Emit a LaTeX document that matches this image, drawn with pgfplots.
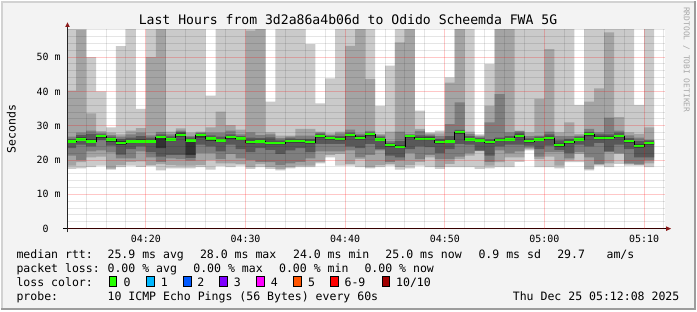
\documentclass[border=0pt]{standalone}
\usepackage{pgfplots}
\pgfplotsset{compat=1.18}
\usepackage{pgfplotstable}
\usepgfplotslibrary{fillbetween}
\tikzset{fill between/on layer=main}
\usepackage{fontspec}
\newfontfamily\mono{DejaVu Sans Mono}
\definecolor{bg}{HTML}{F3F3F3}
\definecolor{sA}{HTML}{CACACA}
\definecolor{sB}{HTML}{A4A4A4}
\definecolor{sC}{HTML}{7E7E7E}
\definecolor{sD}{HTML}{585858}
\definecolor{sE}{HTML}{323232}
\definecolor{medc}{HTML}{26FF00}
\definecolor{arrowred}{HTML}{8B1A1A}
\definecolor{framelight}{HTML}{D2D2D2}
\definecolor{framedark}{HTML}{9C9C9C}
\definecolor{wm}{HTML}{A8A8A8}
\definecolor{lc0}{HTML}{26FF00}
\definecolor{lc1}{HTML}{00B8FF}
\definecolor{lc2}{HTML}{0059FF}
\definecolor{lc3}{HTML}{7E00FF}
\definecolor{lc4}{HTML}{FF00FF}
\definecolor{lc5}{HTML}{FF5500}
\definecolor{lc6}{HTML}{FF0000}
\definecolor{lc10}{HTML}{A10000}
\newcommand\lf{\mono\fontsize{11.6}{12}\selectfont}
\pgfplotstableread{
t p1 p2 p3 p4 p5 md p6 p7 p8 p9 p10
12 17.4 18.4 21.3 23.5 25.0 25.4 25.8 26.2 26.8 40.2 65
13 17.6 19.4 20.0 24.5 25.6 26.0 26.6 27.3 28.0 57.9 65
14 17.9 20.8 22.5 24.0 25.0 25.4 26.0 27.6 28.6 33.6 50.0
15 18.4 21.0 22.8 25.8 26.4 26.9 27.2 27.5 27.9 28.4 40.0
16 17.2 17.5 22.2 24.2 25.3 26.0 26.4 26.8 27.3 28.0 29.5
17 17.9 18.5 20.5 21.6 24.4 24.9 25.5 26.2 26.8 27.5 53.2
18 18.4 19.5 20.5 23.2 24.9 25.4 25.8 26.5 27.5 28.6 65
19 18.0 19.6 22.5 24.0 25.0 25.4 26.0 27.0 28.0 29.3 34.9
20 18.2 18.5 20.8 22.3 25.0 25.4 25.8 26.5 27.2 50.0 65
21 17.0 18.8 19.5 21.0 23.5 26.6 27.0 27.5 28.2 65 65
22 17.6 18.5 20.5 21.5 25.5 26.0 26.4 26.9 27.5 28.3 65
23 17.6 18.4 20.3 21.5 26.8 27.4 27.8 28.2 28.6 29.2 65
24 17.6 18.4 19.8 20.6 21.5 25.7 26.0 26.6 27.0 28.0 65
25 17.9 18.6 22.0 24.5 26.5 27.2 27.5 27.8 28.0 28.3 65
26 17.2 20.0 22.0 24.0 25.6 26.3 26.7 27.2 28.0 29.5 38.8
27 18.2 19.0 20.3 22.5 25.2 25.7 26.1 26.8 28.0 34.1 65
28 17.9 19.0 21.8 24.5 26.2 26.6 26.9 27.5 28.6 30.2 65
29 18.4 18.9 20.5 23.2 25.8 26.3 26.6 27.0 27.5 28.9 65
30 17.4 17.9 20.0 22.3 24.8 25.2 25.6 26.5 28.1 57.7 65
31 17.9 18.8 19.5 23.5 25.0 25.4 25.8 26.4 27.3 65 65
32 17.4 18.0 19.4 23.0 24.6 24.9 25.3 26.6 27.5 28.1 37.0
33 17.0 17.4 18.5 21.8 24.6 24.9 25.3 25.7 26.4 27.1 65
34 17.6 17.9 19.0 22.8 25.1 25.5 25.8 26.3 26.8 27.1 65
35 17.9 18.4 19.5 23.5 25.1 25.5 25.8 26.2 27.1 29.1 65
36 17.9 18.4 20.5 22.3 24.8 25.2 25.6 26.2 27.1 29.1 53.8
37 19.0 19.4 22.5 24.7 26.5 27.0 27.3 27.7 28.0 28.3 36.5
38 20.8 21.5 22.5 24.7 26.0 26.4 26.7 27.0 27.3 27.8 43.8
39 18.4 21.8 22.5 24.7 25.7 26.1 26.5 27.0 27.8 28.3 65
40 18.4 18.9 22.8 24.0 26.8 27.2 27.5 28.0 28.9 53.3 65
41 17.9 20.3 20.8 23.5 26.0 26.5 26.9 27.2 27.7 65 65
42 17.6 17.9 21.5 24.7 27.0 27.5 27.8 28.0 28.5 43.6 65
43 17.9 18.5 22.8 23.2 25.6 26.0 26.3 26.8 27.2 27.6 35.8
44 18.4 18.9 19.5 21.3 23.9 24.3 24.6 25.0 25.5 28.3 47.5
45 17.2 18.0 19.9 20.8 23.5 23.9 24.3 25.5 28.3 54.3 65
46 17.6 18.5 22.0 23.2 26.5 26.9 27.1 27.3 27.6 65 65
47 18.4 19.5 20.3 24.0 25.8 26.2 26.6 27.2 28.5 29.1 34.4
48 17.9 20.8 21.5 23.8 25.8 26.2 26.6 27.0 27.4 27.8 28.1
49 17.4 18.0 20.3 22.0 24.8 25.2 25.6 26.2 27.0 27.8 28.6
50 17.9 18.9 20.3 23.2 25.0 25.4 25.8 27.0 30.5 42.6 44.1
51 17.9 20.3 21.0 24.7 27.6 28.1 28.4 28.8 36.8 65 65
52 17.9 21.3 22.0 24.5 25.6 26.0 26.4 27.0 27.6 28.3 65
53 17.4 22.6 22.7 22.8 25.3 25.7 26.0 26.4 26.8 27.1 27.5
54 17.6 18.4 19.5 21.3 24.8 25.2 25.6 26.0 31.0 35.8 48.0
55 17.9 19.4 22.8 24.0 25.5 25.9 26.2 26.5 39.2 65 65
56 17.9 20.8 22.0 24.5 25.6 26.0 26.4 27.0 28.1 65 65
57 19.5 20.8 22.5 24.5 26.6 27.0 27.4 28.0 28.4 28.6 65
58 22.8 23.2 23.6 24.2 25.1 25.5 25.8 26.3 27.0 28.1 65
59 17.9 20.3 21.0 23.2 25.6 26.0 26.4 26.8 27.1 37.8 65
60 17.9 21.0 22.3 24.2 26.0 26.4 26.8 27.5 28.3 52.3 65
61 17.6 18.4 22.3 23.0 23.9 24.3 24.8 25.7 27.0 28.1 65
62 19.4 19.9 20.5 22.0 24.8 25.2 25.6 26.2 27.0 31.0 65
63 19.4 21.8 22.3 24.5 25.6 26.0 26.4 26.8 27.1 27.6 36.1
64 17.0 17.4 20.8 24.0 27.0 27.5 27.8 28.2 29.1 37.0 65
65 18.4 18.7 18.9 25.0 26.1 26.5 26.9 27.5 28.1 40.9 65
66 17.9 19.0 22.3 22.5 26.1 26.5 26.9 27.5 32.4 57.2 65
67 18.9 21.8 22.0 24.5 26.6 27.0 27.3 28.0 28.6 32.5 65
68 18.4 18.9 19.0 23.2 25.1 25.5 25.8 26.4 27.2 28.1 65
69 18.4 18.6 18.8 20.8 23.6 24.0 24.6 25.5 26.5 27.6 36.1
70 17.9 19.0 19.9 20.8 24.5 24.9 25.3 25.7 25.9 29.5 65
71 17.9 19.0 19.9 20.8 24.5 24.9 25.3 25.7 25.9 29.5 65
}\smoke
\begin{document}
\begin{tikzpicture}[x=1bp,y=1bp]
\fill[bg] (0,0) rectangle (697,310);
\draw[framelight, line width=2bp] (1,0) -- (1,309) -- (697,309);
\draw[framedark, line width=2bp] (0,1) -- (696,1) -- (696,310);
\fill[white] (66.7,81.7) rectangle (666.2,281.7);
\begin{axis}[
  at={(66.7bp,81.7bp)}, anchor=south west,
  scale only axis, width=599.5bp, height=200bp,
  xmin=12.133, xmax=72.133, ymin=0, ymax=58.14,
  axis on top,
  axis line style={draw=none},
  tick style={draw=none},
  xtick={20,30,40,50,60,70},
  xticklabels={04:20,04:30,04:40,04:50,05:00,05:10},
  ytick={0,10,20,30,40,50},
  yticklabels={0\hphantom{mm},10 m,20 m,30 m,40 m,50 m},
  minor xtick={14,16,18,22,24,26,28,32,34,36,38,42,44,46,48,52,54,56,58,62,64,66,68,72},
  minor ytick={2,4,6,8,12,14,16,18,22,24,26,28,32,34,36,38,42,44,46,48,52,54,56,58},
  grid=both,
  major grid style={draw=red, draw opacity=0.22, line width=1bp},
  minor grid style={draw=black, draw opacity=0.1, line width=1bp},
  xticklabel style={font=\mono\fontsize{10}{10}\selectfont, anchor=north, inner sep=0pt, yshift=-6.7bp},
  yticklabel style={font=\mono\fontsize{10}{10}\selectfont, anchor=east, inner sep=0pt, xshift=-6.7bp},
]
\addplot[name path=p1, draw=none, const plot] table[x=t,y=p1]{\smoke};
\addplot[name path=p2, draw=none, const plot] table[x=t,y=p2]{\smoke};
\addplot[name path=p3, draw=none, const plot] table[x=t,y=p3]{\smoke};
\addplot[name path=p4, draw=none, const plot] table[x=t,y=p4]{\smoke};
\addplot[name path=p5, draw=none, const plot] table[x=t,y=p5]{\smoke};
\addplot[name path=p6, draw=none, const plot] table[x=t,y=p6]{\smoke};
\addplot[name path=p7, draw=none, const plot] table[x=t,y=p7]{\smoke};
\addplot[name path=p8, draw=none, const plot] table[x=t,y=p8]{\smoke};
\addplot[name path=p9, draw=none, const plot] table[x=t,y=p9]{\smoke};
\addplot[name path=p10, draw=none, const plot] table[x=t,y=p10]{\smoke};
\addplot[fill=sA, draw=none] fill between[of=p1 and p10];
\addplot[fill=sB, draw=none] fill between[of=p2 and p9];
\addplot[fill=sC, draw=none] fill between[of=p3 and p8];
\addplot[fill=sD, draw=none] fill between[of=p4 and p7];
\addplot[fill=sE, draw=none] fill between[of=p5 and p6];
\addplot[black, line width=0.8bp, const plot] table[x=t,y=md]{\smoke};
\addplot[medc, line width=2.2bp, jump mark left] table[x=t,y=md]{\smoke};
\end{axis}
% axis lines and arrows
\draw[black, line width=1bp] (62,81.7) -- (667,81.7);
\draw[black!85, line width=1bp] (66.7,78) -- (66.7,284);
\fill[arrowred] (64.4,284) -- (69,284) -- (66.7,288.6) -- cycle;
\fill[arrowred] (667,79.4) -- (667,84) -- (672,81.7) -- cycle;
% title and labels
\node[anchor=base, inner sep=0pt, font=\mono\fontsize{13.2}{14}\selectfont] at (348,286) {Last Hours from 3d2a86a4b06d to Odido Scheemda FWA 5G};
\node[rotate=90, inner sep=0pt, font=\lf] at (10.3,181.7) {Seconds};
\node[rotate=-90, inner sep=0pt, text=wm, font=\mono\fontsize{8}{8}\selectfont] at (687.5,251) {RRDTOOL / TOBI OETIKER};
% legend row 1
\node[anchor=base west, inner sep=0pt, font=\lf] at (15.4,51.7) {median rtt:};
\node[anchor=base west, inner sep=0pt, font=\lf] at (106.7,51.7) {25.9 ms avg};
\node[anchor=base west, inner sep=0pt, font=\lf] at (199.4,51.7) {28.0 ms max};
\node[anchor=base west, inner sep=0pt, font=\lf] at (292.7,51.7) {24.0 ms min};
\node[anchor=base west, inner sep=0pt, font=\lf] at (385.4,51.7) {25.0 ms now};
\node[anchor=base west, inner sep=0pt, font=\lf] at (478.7,51.7) {0.9 ms sd};
\node[anchor=base west, inner sep=0pt, font=\lf] at (557.7,51.7) {29.7};
\node[anchor=base west, inner sep=0pt, font=\lf] at (607.1,51.7) {am/s};
% legend row 2
\node[anchor=base west, inner sep=0pt, font=\lf] at (15.4,37.6) {packet loss:};
\node[anchor=base west, inner sep=0pt, font=\lf] at (106.7,37.6) {0.00 \% avg};
\node[anchor=base west, inner sep=0pt, font=\lf] at (192.7,37.6) {0.00 \% max};
\node[anchor=base west, inner sep=0pt, font=\lf] at (278.7,37.6) {0.00 \% min};
\node[anchor=base west, inner sep=0pt, font=\lf] at (364.4,37.6) {0.00 \% now};
% legend row 3
\node[anchor=base west, inner sep=0pt, font=\lf] at (15.4,23.5) {loss color:};
\filldraw[fill=lc0, draw=black, line width=0.8bp] (108.7,24) rectangle (116.2,33.5);
\filldraw[fill=lc1, draw=black, line width=0.8bp] (146.1,24) rectangle (153.6,33.5);
\filldraw[fill=lc2, draw=black, line width=0.8bp] (183.1,24) rectangle (190.6,33.5);
\filldraw[fill=lc3, draw=black, line width=0.8bp] (219.4,24) rectangle (226.9,33.5);
\filldraw[fill=lc4, draw=black, line width=0.8bp] (256.4,24) rectangle (263.9,33.5);
\filldraw[fill=lc5, draw=black, line width=0.8bp] (293.7,24) rectangle (301.2,33.5);
\filldraw[fill=lc6, draw=black, line width=0.8bp] (330.4,24) rectangle (337.9,33.5);
\filldraw[fill=lc10, draw=black, line width=0.8bp] (382.1,24) rectangle (389.6,33.5);
\node[anchor=base west, inner sep=0pt, font=\lf] at (122.7,23.5) {0};
\node[anchor=base west, inner sep=0pt, font=\lf] at (160.1,23.5) {1};
\node[anchor=base west, inner sep=0pt, font=\lf] at (196.7,23.5) {2};
\node[anchor=base west, inner sep=0pt, font=\lf] at (233.4,23.5) {3};
\node[anchor=base west, inner sep=0pt, font=\lf] at (270.4,23.5) {4};
\node[anchor=base west, inner sep=0pt, font=\lf] at (307.7,23.5) {5};
\node[anchor=base west, inner sep=0pt, font=\lf] at (344.4,23.5) {6-9};
\node[anchor=base west, inner sep=0pt, font=\lf] at (396.1,23.5) {10/10};
% legend row 4
\node[anchor=base west, inner sep=0pt, font=\lf] at (15.4,9.6) {probe:};
\node[anchor=base west, inner sep=0pt, font=\lf] at (106.7,9.6) {10 ICMP Echo Pings (56 Bytes) every 60s};
\node[anchor=base east, inner sep=0pt, font=\lf] at (680.5,9.6) {Thu Dec 25 05:12:08 2025};
\end{tikzpicture}
\end{document}
